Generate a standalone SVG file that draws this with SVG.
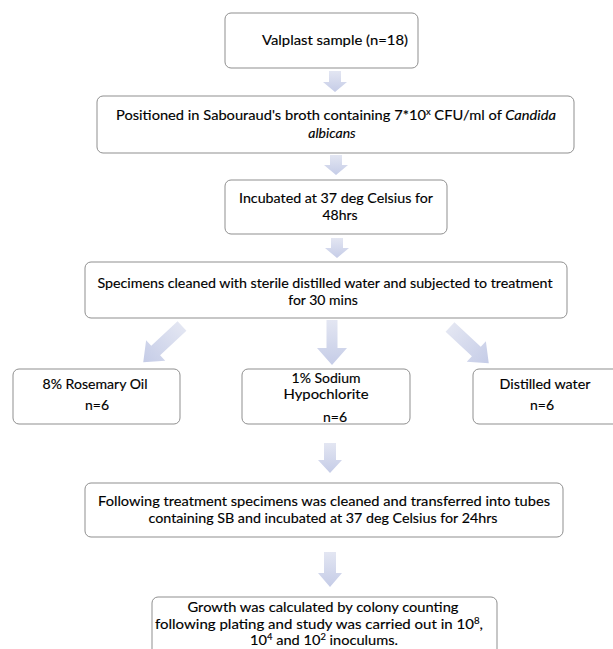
<svg xmlns="http://www.w3.org/2000/svg" width="613" height="649" viewBox="0 0 613 649">
<defs>
<linearGradient id="ag" x1="0" y1="0" x2="0" y2="1">
<stop offset="0" stop-color="#e3e6f2"/>
<stop offset="1" stop-color="#c5cce7"/>
</linearGradient>
<style>
.box{fill:#fff;stroke:#8f8f8f;stroke-width:1}
.t{font-family:Lato,'Open Sans',sans-serif;font-size:14px;fill:#000;stroke:#000;stroke-width:0.15;text-anchor:middle}
.i{font-style:italic}
.sup{font-size:9px}
.arrow{fill:url(#ag)}
</style>
</defs>
<rect width="613" height="649" fill="#fff"/>
<g id="connectors">
<path class="arrow" d="M329 71 H341 V82 H347 L335 92 L323 82 H329Z"/>
<path class="arrow" d="M330 155 H342 V165 H348 L336 175 L324 165 H330Z"/>
<path class="arrow" d="M331 238 H343 V248 H349 L337 258 L325 248 H331Z"/>
<path class="arrow" d="M-6.5 0 H6.5 V36 H14 L0 53 L-14 36 H-6.5Z" transform="translate(182,326) rotate(47)"/>
<path class="arrow" d="M326.5 320 H337.5 V348 H347 L332 365 L317 348 H326.5Z"/>
<path class="arrow" d="M-6.5 0 H6.5 V36 H14 L0 53 L-14 36 H-6.5Z" transform="translate(450,327) rotate(-47)"/>
<path class="arrow" d="M324 443 H336 V460 H342 L330 473 L318 460 H324Z"/>
<path class="arrow" d="M324 552 H336 V573 H342 L330 587 L318 573 H324Z"/>
</g>
<g id="n1">
<rect class="box" x="225" y="13" width="193" height="55" rx="6"/>
<text class="t" x="335" y="45" textLength="146" lengthAdjust="spacingAndGlyphs">Valplast sample (n=18)</text>
</g>
<g id="n2">
<rect class="box" x="97" y="96" width="477" height="57" rx="6"/>
<text class="t" x="336" y="120" textLength="440" lengthAdjust="spacingAndGlyphs">Positioned in Sabouraud's broth containing 7*10<tspan class="sup" dy="-5">x</tspan><tspan dy="5"> CFU/ml of </tspan><tspan class="i">Candida</tspan></text>
<text class="t i" x="332" y="138">albicans</text>
</g>
<g id="n3">
<rect class="box" x="225" y="180" width="222" height="54" rx="6"/>
<text class="t" x="336" y="203" textLength="194" lengthAdjust="spacingAndGlyphs">Incubated at 37 deg Celsius for</text>
<text class="t" x="340" y="220">48hrs</text>
</g>
<g id="n4">
<rect class="box" x="85" y="262" width="482" height="56" rx="6"/>
<text class="t" x="325" y="288" textLength="455" lengthAdjust="spacingAndGlyphs">Specimens cleaned with sterile distilled water and subjected to treatment</text>
<text class="t" x="323" y="305">for 30 mins</text>
</g>
<g id="n5">
<rect class="box" x="13" y="369" width="167" height="55" rx="6"/>
<text class="t" x="95" y="389" textLength="105" lengthAdjust="spacingAndGlyphs">8% Rosemary Oil</text>
<text class="t" x="97" y="410">n=6</text>
</g>
<g id="n6">
<rect class="box" x="242" y="369" width="168" height="55" rx="6"/>
<text class="t" x="326" y="383">1% Sodium</text>
<text class="t" x="326" y="399" textLength="85" lengthAdjust="spacingAndGlyphs">Hypochlorite</text>
<text class="t" x="335" y="422">n=6</text>
</g>
<g id="n7">
<rect class="box" x="473" y="369" width="150" height="55" rx="6"/>
<text class="t" x="545" y="389" textLength="91" lengthAdjust="spacingAndGlyphs">Distilled water</text>
<text class="t" x="542" y="410">n=6</text>
</g>
<g id="n8">
<rect class="box" x="85" y="483" width="478" height="54" rx="6"/>
<text class="t" x="324" y="506" textLength="452" lengthAdjust="spacingAndGlyphs">Following treatment specimens was cleaned and transferred into tubes</text>
<text class="t" x="323" y="523" textLength="349" lengthAdjust="spacingAndGlyphs">containing SB and incubated at 37 deg Celsius for 24hrs</text>
</g>
<g id="n9">
<rect class="box" x="152" y="597" width="345" height="70" rx="6"/>
<text class="t" x="323" y="612" textLength="271" lengthAdjust="spacingAndGlyphs">Growth was calculated by colony counting</text>
<text class="t" x="319" y="629" textLength="328" lengthAdjust="spacingAndGlyphs">following plating and study was carried out in 10<tspan class="sup" dy="-5">8</tspan><tspan dy="5">,</tspan></text>
<text class="t" x="324" y="645" textLength="148" lengthAdjust="spacingAndGlyphs">10<tspan class="sup" dy="-5">4</tspan><tspan dy="5"> and 10</tspan><tspan class="sup" dy="-5">2</tspan><tspan dy="5"> inoculums.</tspan></text>
</g>
</svg>
